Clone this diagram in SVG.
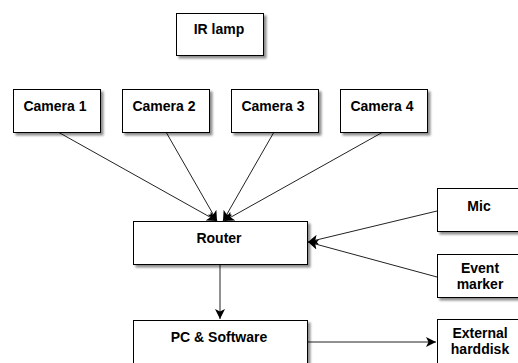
<svg xmlns="http://www.w3.org/2000/svg" width="518" height="363" viewBox="0 0 518 363">
  <defs>
    <filter id="shadow" x="-10%" y="-10%" width="130%" height="140%">
      <feDropShadow dx="2.5" dy="2.5" stdDeviation="1.3" flood-color="#000" flood-opacity="0.45"/>
    </filter>
    <marker id="arrow" markerUnits="userSpaceOnUse" markerWidth="12" markerHeight="11" refX="10" refY="5.5" orient="auto">
      <path d="M0,0.5 L10,5.5 L0,10.5 L2.5,5.5 z" fill="#000"/>
    </marker>
  </defs>
  <style>
    .box { fill: #fff; stroke: #000; stroke-width: 1; filter: url(#shadow); }
    .label { font-family: "Liberation Sans", Arial, sans-serif; font-size: 14px; font-weight: bold; fill: #000; text-anchor: middle; }
    .edge { fill: none; stroke: #222; stroke-width: 1; marker-end: url(#arrow); }
  </style>

  <g id="connectors">
    <line class="edge" x1="58" y1="132" x2="217" y2="221"/>
    <line class="edge" x1="166" y1="132" x2="217" y2="221"/>
    <line class="edge" x1="274" y1="132" x2="223" y2="221"/>
    <line class="edge" x1="383" y1="132" x2="224" y2="221"/>
    <line class="edge" x1="437" y1="211" x2="308" y2="242"/>
    <line class="edge" x1="437" y1="277" x2="308" y2="242"/>
    <line class="edge" x1="220" y1="265" x2="220" y2="319"/>
    <line class="edge" x1="307" y1="342" x2="436" y2="342"/>
  </g>

  <g id="ir-lamp">
    <rect class="box" x="176.5" y="13.5" width="87" height="42"/>
    <text class="label" x="219" y="34">IR lamp</text>
  </g>
  <g id="camera-1">
    <rect class="box" x="13.5" y="89.5" width="87" height="43"/>
    <text class="label" x="55" y="111">Camera 1</text>
  </g>
  <g id="camera-2">
    <rect class="box" x="122.5" y="89.5" width="87" height="43"/>
    <text class="label" x="164" y="111">Camera 2</text>
  </g>
  <g id="camera-3">
    <rect class="box" x="231.5" y="89.5" width="87" height="43"/>
    <text class="label" x="273" y="111">Camera 3</text>
  </g>
  <g id="camera-4">
    <rect class="box" x="340.5" y="89.5" width="87" height="43"/>
    <text class="label" x="382" y="111">Camera 4</text>
  </g>
  <g id="router">
    <rect class="box" x="133.5" y="221.5" width="174" height="43"/>
    <text class="label" x="219" y="243">Router</text>
  </g>
  <g id="mic">
    <rect class="box" x="437.5" y="188.5" width="87" height="43"/>
    <text class="label" x="479" y="211">Mic</text>
  </g>
  <g id="event-marker">
    <rect class="box" x="437.5" y="254.5" width="87" height="43"/>
    <text class="label" x="480" y="273">Event</text>
    <text class="label" x="480" y="289">marker</text>
  </g>
  <g id="pc-software">
    <rect class="box" x="133.5" y="320.5" width="174" height="44"/>
    <text class="label" x="219" y="342">PC &amp; Software</text>
  </g>
  <g id="external-harddisk">
    <rect class="box" x="437.5" y="319.5" width="87" height="44"/>
    <text class="label" x="480" y="338">External</text>
    <text class="label" x="480" y="354">harddisk</text>
  </g>
</svg>
